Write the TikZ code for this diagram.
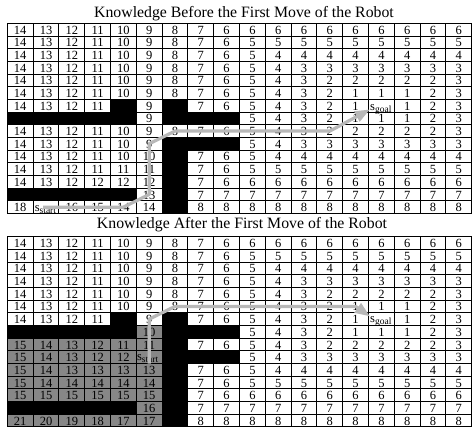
\documentclass[tikz,border=0pt]{standalone}
\usepackage{fontspec}
\setmainfont{Liberation Serif}
\usetikzlibrary{arrows.meta}
\definecolor{cellgray}{gray}{0.53}
\definecolor{pathgray}{gray}{0.72}
\def\tokB{B}\def\tokS{S}\def\tokG{G}
\def\gridX{7.3}\def\gridW{25.8}\def\gridHt{12.68}
\newcommand\subl[1]{\raisebox{-2.2pt}{\fontsize{9.5}{9.5}\selectfont #1}}
\newcommand\gridrows[4]{%
  \foreach \rowdata [count=\r] in {#4} {
    \foreach \v [count=\c] in \rowdata {
      \edef\tmpv{\v}%
      \def\cellsty{cw}\let\celltxt\tmpv
      \ifnum#3=1 \ifnum\r>7 \ifnum\c<7 \def\cellsty{cg}\fi\fi\fi
      \ifx\tmpv\tokB \def\cellsty{cb}\def\celltxt{}\fi
      \ifx\tmpv\tokS \def\celltxt{}\fi
      \ifx\tmpv\tokG \def\celltxt{}\fi
      \node[cell,\cellsty] (#1-\r-\c) at ({\gridX+(\c-0.5)*\gridW},{#2+(\r-0.5)*\gridHt}) {};
      \ifx\celltxt\empty\else
        \node[num] at ([yshift=1.8pt]#1-\r-\c.south) {\celltxt};
      \fi
    }
  }%
}
\begin{document}
\begin{tikzpicture}[x=1pt,y=-1pt,
  cell/.style={draw=black, line width=0.9pt, minimum width=25.8pt, minimum height=12.68pt, inner sep=0pt, outer sep=0pt},
  cw/.style={fill=white},
  cg/.style={fill=cellgray},
  cb/.style={fill=black},
  num/.style={anchor=base, inner sep=0pt, font=\fontsize{12.5}{12.5}\selectfont},
  lbl/.style={anchor=base west, inner sep=0pt, font=\fontsize{12.5}{12.5}\selectfont},
  ttl/.style={anchor=base, inner sep=0pt, font=\fontsize{15.8}{16}\selectfont},
  route/.style={draw=pathgray, line width=3.2pt, line join=round, -{Triangle[length=15pt,width=11pt]}}]
\fill[white] (0,0) rectangle (474,433);
\useasboundingbox (0,0) rectangle (474,433);

\node[ttl] (title1) at (244,17.3) {Knowledge Before the First Move of the Robot};
\node[ttl] (title2) at (242,228.3) {Knowledge After the First Move of the Robot};

\gridrows{T}{23.3}{0}{%
{14,13,12,11,10,9,8,7,6,6,6,6,6,6,6,6,6,6},
{14,13,12,11,10,9,8,7,6,5,5,5,5,5,5,5,5,5},
{14,13,12,11,10,9,8,7,6,5,4,4,4,4,4,4,4,4},
{14,13,12,11,10,9,8,7,6,5,4,3,3,3,3,3,3,3},
{14,13,12,11,10,9,8,7,6,5,4,3,2,2,2,2,2,3},
{14,13,12,11,10,9,8,7,6,5,4,3,2,1,1,1,2,3},
{14,13,12,11,B,9,B,7,6,5,4,3,2,1,G,1,2,3},
{B,B,B,B,B,9,B,B,B,5,4,3,2,1,1,1,2,3},
{14,13,12,11,10,9,8,7,6,5,4,3,2,2,2,2,2,3},
{14,13,12,11,10,9,B,B,B,5,4,3,3,3,3,3,3,3},
{14,13,12,11,10,10,B,7,6,5,4,4,4,4,4,4,4,4},
{14,13,12,11,11,11,B,7,6,5,5,5,5,5,5,5,5,5},
{14,13,12,12,12,12,B,7,6,6,6,6,6,6,6,6,6,6},
{B,B,B,B,B,13,B,7,7,7,7,7,7,7,7,7,7,7},
{18,S,16,15,14,14,B,8,8,8,8,8,8,8,8,8,8,8}}

\gridrows{L}{236.7}{1}{%
{14,13,12,11,10,9,8,7,6,6,6,6,6,6,6,6,6,6},
{14,13,12,11,10,9,8,7,6,5,5,5,5,5,5,5,5,5},
{14,13,12,11,10,9,8,7,6,5,4,4,4,4,4,4,4,4},
{14,13,12,11,10,9,8,7,6,5,4,3,3,3,3,3,3,3},
{14,13,12,11,10,9,8,7,6,5,4,3,2,2,2,2,2,3},
{14,13,12,11,10,9,8,7,6,5,4,3,2,1,1,1,2,3},
{14,13,12,11,B,9,B,7,6,5,4,3,2,1,G,1,2,3},
{B,B,B,B,B,10,B,B,B,5,4,3,2,1,1,1,2,3},
{15,14,13,12,11,11,B,7,6,5,4,3,2,2,2,2,2,3},
{15,14,13,12,12,S,B,B,B,5,4,3,3,3,3,3,3,3},
{15,14,13,13,13,13,B,7,6,5,4,4,4,4,4,4,4,4},
{15,14,14,14,14,14,B,7,6,5,5,5,5,5,5,5,5,5},
{15,15,15,15,15,15,B,7,6,6,6,6,6,6,6,6,6,6},
{B,B,B,B,B,16,B,7,7,7,7,7,7,7,7,7,7,7},
{21,20,19,18,17,17,B,8,8,8,8,8,8,8,8,8,8,8}}

\node[lbl] (Tstart) at ([xshift=1.5pt,yshift=1.8pt]T-15-2.south west) {s\subl{start}};
\node[lbl] (Tgoal) at ([xshift=1.5pt,yshift=1.8pt]T-7-15.south west) {s\subl{goal}};
\node[lbl] (Lstart) at ([xshift=0.5pt,yshift=3pt]L-10-6.south west) {s\subl{start}};
\node[lbl] (Lgoal) at ([xshift=1.5pt,yshift=3pt]L-7-15.south west) {s\subl{goal}};

\draw[route] ([xshift=-3pt]T-15-2.center) -- (T-15-5.center) -- (T-14-6.center)
  -- (T-10-6.center) -- (T-9-7.center) -- (T-9-13.center) -- (Tgoal.west);
\draw[route] (L-10-6.south) -- (L-7-6.center) -- (L-6-7.center)
  -- (L-6-14.center) -- (Lgoal.north west);
\end{tikzpicture}
\end{document}
